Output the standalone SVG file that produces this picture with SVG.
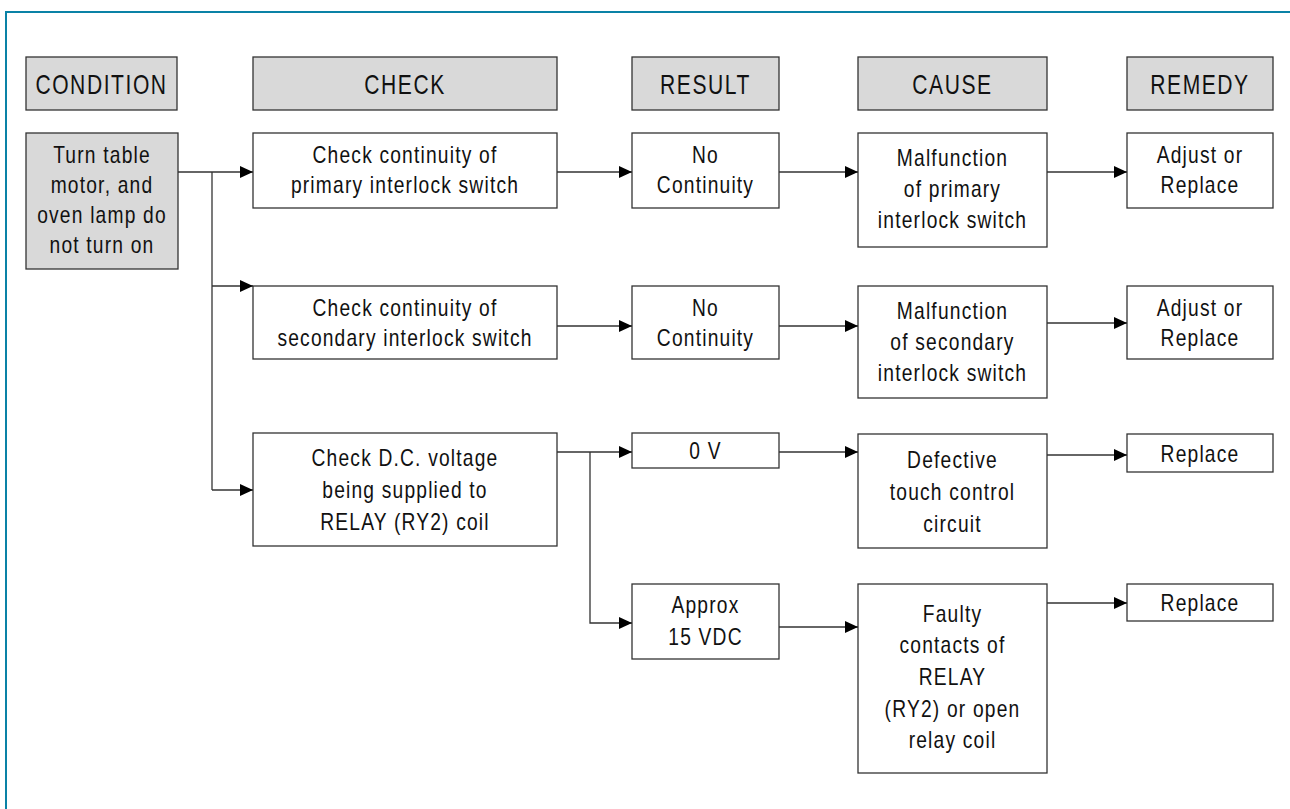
<svg xmlns="http://www.w3.org/2000/svg" width="1290" height="809" viewBox="0 0 1290 809">
<defs>
<style>
.hdr{fill:#d9d9d9;stroke:#333;stroke-width:1.3}
.box{fill:#fff;stroke:#333;stroke-width:1.3}
.gbox{fill:#d9d9d9;stroke:#333;stroke-width:1.3}
text{font-family:"Liberation Sans",Arial,sans-serif;fill:#111;text-anchor:middle}
.ht{font-size:27px;letter-spacing:2px}
.bt{font-size:24px;letter-spacing:1.5px}
.ln{fill:none;stroke:#333;stroke-width:1.3}
</style>
<marker id="arr" viewBox="0 0 13 13" refX="13" refY="6.5" markerWidth="13" markerHeight="13" markerUnits="userSpaceOnUse" orient="auto">
<path d="M0,0.5 L13,6.5 L0,12.5 Z" fill="#000"/>
</marker>
</defs>
<rect x="0" y="0" width="1290" height="809" fill="#fff"/>
<path d="M6,809 V12 H1290" fill="none" stroke="#0a82a6" stroke-width="2"/>

<g id="hdr-condition"><rect class="hdr" x="26" y="57" width="151" height="53"/><g transform="matrix(0.78 0 0 1 101.5 0)"><text class="ht" x="0" y="94">CONDITION</text></g></g>
<g id="hdr-check"><rect class="hdr" x="253" y="57" width="304" height="53"/><g transform="matrix(0.78 0 0 1 405 0)"><text class="ht" x="0" y="94">CHECK</text></g></g>
<g id="hdr-result"><rect class="hdr" x="632" y="57" width="147" height="53"/><g transform="matrix(0.78 0 0 1 705.5 0)"><text class="ht" x="0" y="94">RESULT</text></g></g>
<g id="hdr-cause"><rect class="hdr" x="858" y="57" width="189" height="53"/><g transform="matrix(0.78 0 0 1 952.5 0)"><text class="ht" x="0" y="94">CAUSE</text></g></g>
<g id="hdr-remedy"><rect class="hdr" x="1127" y="57" width="146" height="53"/><g transform="matrix(0.78 0 0 1 1200 0)"><text class="ht" x="0" y="94">REMEDY</text></g></g>

<g id="condition"><rect class="gbox" x="26" y="133" width="152" height="136"/>
<g transform="matrix(0.8 0 0 1 102 0)"><text class="bt" x="0" y="163">Turn table</text><text class="bt" x="0" y="193">motor, and</text><text class="bt" x="0" y="223">oven lamp do</text><text class="bt" x="0" y="253">not turn on</text></g></g>

<g id="check1"><rect class="box" x="253" y="133" width="304" height="75"/>
<g transform="matrix(0.8 0 0 1 405 0)"><text class="bt" x="0" y="163">Check continuity of</text><text class="bt" x="0" y="193">primary interlock switch</text></g></g>
<g id="result1"><rect class="box" x="632" y="133" width="147" height="75"/>
<g transform="matrix(0.8 0 0 1 705.5 0)"><text class="bt" x="0" y="163">No</text><text class="bt" x="0" y="193">Continuity</text></g></g>
<g id="cause1"><rect class="box" x="858" y="133" width="189" height="114"/>
<g transform="matrix(0.8 0 0 1 952.5 0)"><text class="bt" x="0" y="166">Malfunction</text><text class="bt" x="0" y="197">of primary</text><text class="bt" x="0" y="228">interlock switch</text></g></g>
<g id="remedy1"><rect class="box" x="1127" y="133" width="146" height="75"/>
<g transform="matrix(0.8 0 0 1 1200 0)"><text class="bt" x="0" y="163">Adjust or</text><text class="bt" x="0" y="193">Replace</text></g></g>

<g id="check2"><rect class="box" x="253" y="286" width="304" height="73"/>
<g transform="matrix(0.8 0 0 1 405 0)"><text class="bt" x="0" y="316">Check continuity of</text><text class="bt" x="0" y="346">secondary interlock switch</text></g></g>
<g id="result2"><rect class="box" x="632" y="286" width="147" height="73"/>
<g transform="matrix(0.8 0 0 1 705.5 0)"><text class="bt" x="0" y="316">No</text><text class="bt" x="0" y="346">Continuity</text></g></g>
<g id="cause2"><rect class="box" x="858" y="286" width="189" height="112"/>
<g transform="matrix(0.8 0 0 1 952.5 0)"><text class="bt" x="0" y="319">Malfunction</text><text class="bt" x="0" y="350">of secondary</text><text class="bt" x="0" y="381">interlock switch</text></g></g>
<g id="remedy2"><rect class="box" x="1127" y="286" width="146" height="73"/>
<g transform="matrix(0.8 0 0 1 1200 0)"><text class="bt" x="0" y="316">Adjust or</text><text class="bt" x="0" y="346">Replace</text></g></g>

<g id="check3"><rect class="box" x="253" y="433" width="304" height="113"/>
<g transform="matrix(0.8 0 0 1 405 0)"><text class="bt" x="0" y="466">Check D.C. voltage</text><text class="bt" x="0" y="498">being supplied to</text><text class="bt" x="0" y="530">RELAY (RY2) coil</text></g></g>
<g id="result3"><rect class="box" x="632" y="433" width="147" height="35"/>
<g transform="matrix(0.8 0 0 1 705.5 0)"><text class="bt" x="0" y="459">0 V</text></g></g>
<g id="cause3"><rect class="box" x="858" y="434" width="189" height="114"/>
<g transform="matrix(0.8 0 0 1 952.5 0)"><text class="bt" x="0" y="468">Defective</text><text class="bt" x="0" y="500">touch control</text><text class="bt" x="0" y="532">circuit</text></g></g>
<g id="remedy3"><rect class="box" x="1127" y="434" width="146" height="38"/>
<g transform="matrix(0.8 0 0 1 1200 0)"><text class="bt" x="0" y="462">Replace</text></g></g>

<g id="result4"><rect class="box" x="632" y="584" width="147" height="75"/>
<g transform="matrix(0.8 0 0 1 705.5 0)"><text class="bt" x="0" y="613">Approx</text><text class="bt" x="0" y="645">15 VDC</text></g></g>
<g id="cause4"><rect class="box" x="858" y="584" width="189" height="189"/>
<g transform="matrix(0.8 0 0 1 952.5 0)"><text class="bt" x="0" y="622">Faulty</text><text class="bt" x="0" y="653">contacts of</text><text class="bt" x="0" y="685">RELAY</text><text class="bt" x="0" y="717">(RY2) or open</text><text class="bt" x="0" y="748">relay coil</text></g></g>
<g id="remedy4"><rect class="box" x="1127" y="584" width="146" height="37"/>
<g transform="matrix(0.8 0 0 1 1200 0)"><text class="bt" x="0" y="611">Replace</text></g></g>

<g id="connectors">
<path class="ln" d="M178,172 H253" marker-end="url(#arr)"/>
<path class="ln" d="M212,172 V490"/>
<path class="ln" d="M212,286 H253" marker-end="url(#arr)"/>
<path class="ln" d="M212,490 H253" marker-end="url(#arr)"/>
<path class="ln" d="M557,172 H632" marker-end="url(#arr)"/>
<path class="ln" d="M779,172 H858" marker-end="url(#arr)"/>
<path class="ln" d="M1047,172 H1127" marker-end="url(#arr)"/>
<path class="ln" d="M557,326 H632" marker-end="url(#arr)"/>
<path class="ln" d="M779,326 H858" marker-end="url(#arr)"/>
<path class="ln" d="M1047,323 H1127" marker-end="url(#arr)"/>
<path class="ln" d="M557,452 H632" marker-end="url(#arr)"/>
<path class="ln" d="M590,452 V623 H632" marker-end="url(#arr)"/>
<path class="ln" d="M779,452 H858" marker-end="url(#arr)"/>
<path class="ln" d="M1047,455 H1127" marker-end="url(#arr)"/>
<path class="ln" d="M779,627 H858" marker-end="url(#arr)"/>
<path class="ln" d="M1047,603 H1127" marker-end="url(#arr)"/>
</g>
</svg>
